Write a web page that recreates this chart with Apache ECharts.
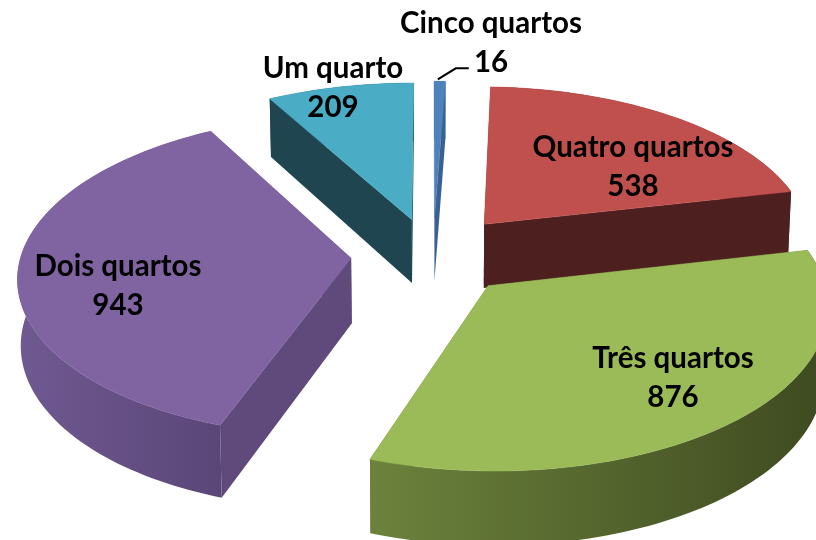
<!DOCTYPE html>
<html>
<head>
<meta charset="utf-8">
<style>html,body{margin:0;padding:0;background:#fff}#main{width:816px;height:540px}</style>
<script src="https://cdn.jsdelivr.net/npm/echarts@6/dist/echarts.min.js"></script>
</head>
<body>
<div id="main"></div>
<script>
// dados (sentido horario a partir do topo)
var categories = ['Cinco quartos', 'Quatro quartos', 'Três quartos', 'Dois quartos', 'Um quarto'];
var values = [16, 538, 876, 943, 209];

// estilo por fatia
var topColors = ['#4f81bd', '#c0504d', '#9bbb59', '#8064a2', '#4bacc6'];
var sideColors = ['#3a6291', '#4d1f1f', '#5f7a35', '#604a7b', '#1f4650'];
var arcLeft = ['#3a6291', '#4d1f1f', '#6c823c', '#6f5991', '#1f4650'];
var arcRight = ['#3a6291', '#4d1f1f', '#3e4a20', '#5b4678', '#1f4650'];
var explode = [80, 85, 84, 80, 78];
var nudgeX = [2, 0, 0, 0, 0];
var labelPos = [[491, 43], [633, 167], [673, 378], [118, 286], [333, 88]];

// perspectiva do disco
var cx = 431, cy = 255, R = 330, tilt = 0.48, persp = 0.107, depth = 65, shrink = 0.992;

var total = 0;
for (var i = 0; i < values.length; i++) total += values[i];

function project(X, Y) {
    var s = 1 / (1 - persp * Y / R);
    return [cx + X * s, cy + Y * tilt * s, s];
}
function lower(p) {
    return [cx + (p[0] - cx) * shrink, p[1] + depth * p[2]];
}

function renderSlice(params, api) {
    var idx = params.dataIndex;
    var before = 0;
    for (var j = 0; j < idx; j++) before += values[j];
    var a0 = before / total * 2 * Math.PI;
    var a1 = (before + api.value(0)) / total * 2 * Math.PI;
    var mid = (a0 + a1) / 2;
    var ax = explode[idx] * Math.sin(mid) + nudgeX[idx];
    var ay = -explode[idx] * Math.cos(mid);

    var apex = project(ax, ay);
    var arc = [];
    var n = Math.max(4, Math.ceil((a1 - a0) * 40));
    for (var k = 0; k <= n; k++) {
        var a = a0 + (a1 - a0) * k / n;
        arc.push(project(ax + R * Math.sin(a), ay - R * Math.cos(a)));
    }
    var arcLow = arc.map(lower).reverse();
    var apexLow = lower(apex);
    var first = arc[0], last = arc[arc.length - 1];

    var children = [];
    // paredes retas
    children.push({type: 'polygon', shape: {points: [apex, first, lower(first), apexLow]},
        style: {fill: sideColors[idx]}});
    children.push({type: 'polygon', shape: {points: [apex, last, lower(last), apexLow]},
        style: {fill: sideColors[idx]}});
    // parede curva
    children.push({type: 'polygon', shape: {points: arc.concat(arcLow)},
        style: {fill: new echarts.graphic.LinearGradient(0, 0, 1, 0, [
            {offset: 0, color: arcLeft[idx]},
            {offset: 1, color: arcRight[idx]}
        ])}});
    // topo
    children.push({type: 'polygon', shape: {points: [apex].concat(arc)},
        style: {fill: topColors[idx], stroke: topColors[idx], lineWidth: 0.5}});

    if (idx === 0) {
        var tip = arc[Math.floor(n / 2)];
        children.push({type: 'polyline',
            shape: {points: [[tip[0] - 2, tip[1] - 2], [tip[0] + 16, tip[1] - 13], [tip[0] + 29, tip[1] - 13]]},
            style: {stroke: '#000', lineWidth: 2, fill: null}});
    }
    children.push({type: 'text', x: labelPos[idx][0], y: labelPos[idx][1], z2: 10,
        style: {
            text: categories[idx] + '\n' + api.value(0),
            fill: '#000',
            font: 'bold 29.5px Lato',
            lineHeight: 39,
            align: 'center',
            verticalAlign: 'middle'
        }});
    return {type: 'group', children: children};
}

var myChart = echarts.init(document.getElementById('main'));
myChart.setOption({
    animation: false,
    backgroundColor: '#fff',
    series: [{
        type: 'custom',
        coordinateSystem: 'none',
        renderItem: renderSlice,
        data: values
    }]
});
</script>
</body>
</html>
